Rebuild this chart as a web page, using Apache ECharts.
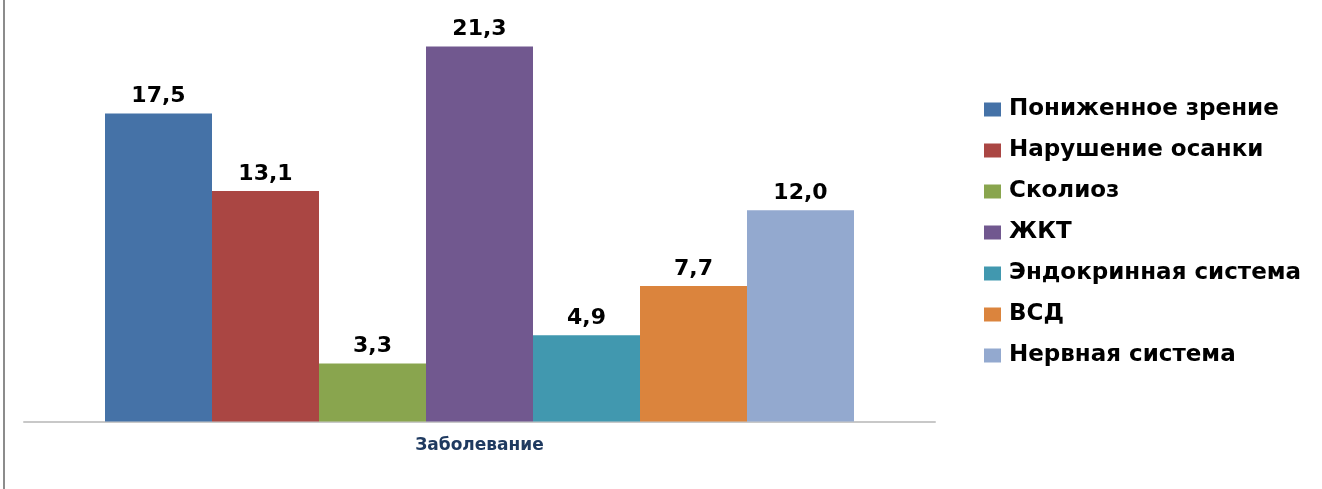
<!DOCTYPE html>
<html><head><meta charset="utf-8">
<script src="https://cdn.jsdelivr.net/npm/echarts@6/dist/echarts.min.js"></script>
<style>html,body{margin:0;padding:0;background:#fff;}#c{width:1322px;height:489px;}
#b{position:absolute;left:3px;top:0;width:2px;height:489px;background:#8c8c8c;}</style>
</head><body><div id="c"></div><div id="b"></div>
<script>
const categories = ['Заболевание'];
const seriesNames = ['Пониженное зрение','Нарушение осанки','Сколиоз','ЖКТ','Эндокринная система','ВСД','Нервная система'];
const seriesValues = [17.5, 13.1, 3.3, 21.3, 4.9, 7.7, 12.0];
const colors = ['#4572a7','#aa4643','#89a54e','#71588f','#4198af','#db843d','#93a9cf'];

const chart = echarts.init(document.getElementById('c'), null, {renderer:'canvas'});
const font = 'DejaVu Sans';
chart.setOption({
  animation:false,
  color: colors,
  grid:{left:24, right:387, top:34.3, bottom:67.5, containLabel:false},
  xAxis:{type:'category', data:categories,
    axisLine:{lineStyle:{color:'#c8c8c8', width:2}},
    axisTick:{show:false},
    axisLabel:{margin:16, fontFamily:font, fontWeight:'bold', fontSize:17, color:'#1f3a60'}},
  yAxis:{type:'value', min:0, max:22, show:false, splitLine:{show:false}},
  legend:{orient:'vertical', left:979, top:93, itemWidth:17, itemHeight:14, itemGap:18,
    icon:'rect', textStyle:{fontFamily:font, fontWeight:'bold', fontSize:23, color:'#000', lineHeight:23, padding:[0,0,0,3]}},
  series: seriesNames.map((n,i)=>({
    name:n, type:'bar', barWidth:107, barGap:'0%',
    data:[seriesValues[i]],
    label:{show:true, position:'top', distance:6, fontFamily:font, fontWeight:'bold', fontSize:22, color:'#000',
      formatter:p=>p.value.toFixed(1).replace('.',',')}
  }))
});
</script></body></html>
